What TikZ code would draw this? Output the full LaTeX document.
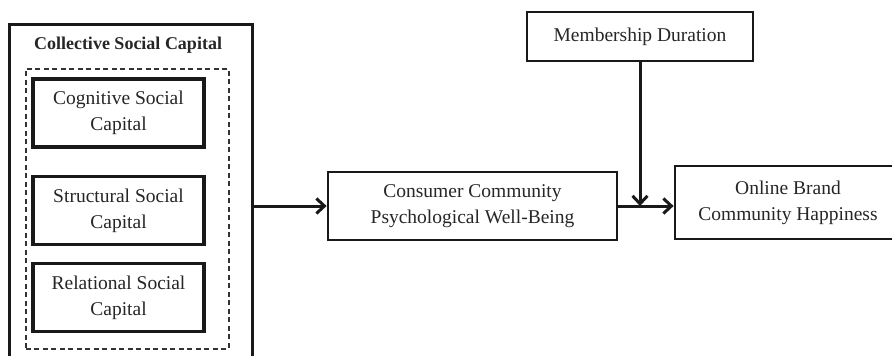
\documentclass[tikz,border=0pt]{standalone}
\usepackage{fontspec}
\setmainfont{Liberation Serif}
\usetikzlibrary{arrows.meta}
\tikzset{
  x=1pt, y=-1pt,
  txt/.style={font=\fontsize{19.5}{26}\selectfont, align=center, text=black!85},
  box/.style={draw=black!90, line width=2.8pt, rectangle, inner sep=0pt, txt},
  thickbox/.style={box, line width=3.8pt},
  conn/.style={draw=black!90, line width=3pt, -{Straight Barb[length=8pt,width=15pt,line width=3pt]}},
}
\begin{document}
\begin{tikzpicture}
\useasboundingbox (0,0) rectangle (892,356);
\clip (0,0) rectangle (892,356);
% outer group
\node[box, minimum width=243pt, minimum height=380pt, anchor=north west, line width=3pt] (outer) at (8,23) {};
\node[txt, font=\fontsize{18}{22}\selectfont\bfseries] (title) at (128,45) {Collective Social Capital};
\node[draw=black!80, dashed, dash pattern=on 5pt off 3.5pt, line width=1.5pt, minimum width=203pt, minimum height=280pt, inner sep=0pt, anchor=north west] (dash) at (25,68) {};
\node[thickbox, minimum width=171pt, minimum height=68pt] (cog) at (118.5,113) {Cognitive Social\\Capital};
\node[thickbox, minimum width=171pt, minimum height=68pt] (str) at (118.5,210.5) {Structural Social\\Capital};
\node[thickbox, minimum width=171pt, minimum height=68pt] (rel) at (118.5,297.5) {Relational Social\\Capital};
% main boxes
\node[box, minimum width=289pt, minimum height=68pt] (cons) at (472.5,206) {Consumer Community\\Psychological Well-Being};
\node[box, minimum width=226pt, minimum height=49pt] (mem) at (640,36.5) {Membership Duration};
\node[box, minimum width=226pt, minimum height=73pt] (onl) at (788,202.5) {Online Brand\\Community Happiness};
% connectors
\coordinate (junc) at (mem.south |- cons.east);
\draw[conn] (outer.east |- cons.west) -- (cons.west);
\draw[conn] (cons.east) -- (cons.east -| onl.west);
\draw[conn] (mem.south) -- (junc);
\end{tikzpicture}
\end{document}
